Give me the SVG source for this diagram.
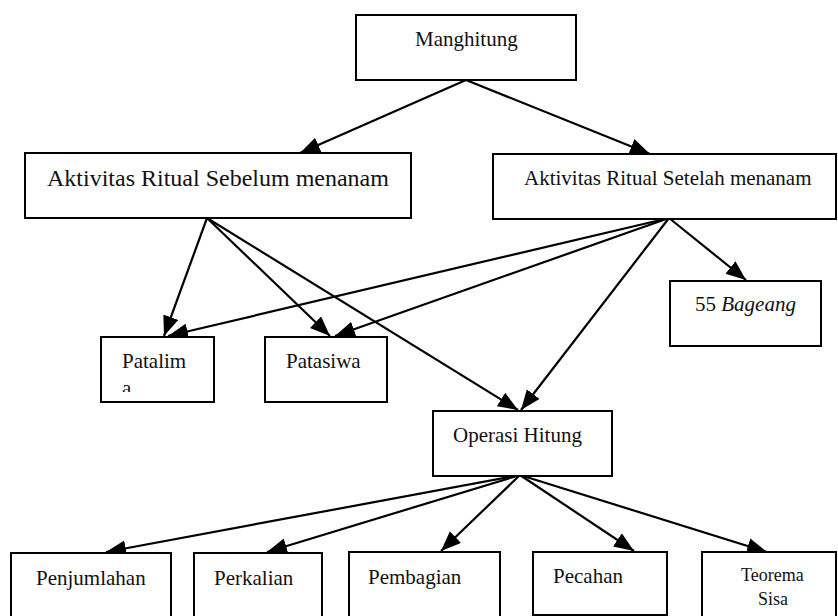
<svg xmlns="http://www.w3.org/2000/svg" width="838" height="616" viewBox="0 0 838 616">
  <style>
    .box { fill: #fff; stroke: #000; stroke-width: 2; }
    .lbl { font-family: 'Liberation Serif', Tinos, 'Times New Roman', 'DejaVu Serif', serif; font-size: 21px; fill: #111; }
    .big { font-size: 24px; }
    .small { font-size: 18px; }
    .edge { stroke: #000; stroke-width: 2.2; fill: none; marker-end: url(#head); }
  </style>
  <defs>
    <marker id="head" markerUnits="userSpaceOnUse" markerWidth="21" markerHeight="17" refX="20" refY="8" orient="auto">
      <path d="M0,0 L20,8 L0,16 z" fill="#000"/>
    </marker>
    <clipPath id="clipPatalima">
      <rect x="101" y="337" width="113" height="55"/>
    </clipPath>
  </defs>
  <rect width="838" height="616" fill="#fff"/>

  <g id="connectors">
    <line class="edge" x1="466" y1="80" x2="300" y2="153"/>
    <line class="edge" x1="466" y1="80" x2="650" y2="154"/>
    <line class="edge" x1="207" y1="218" x2="164" y2="336"/>
    <line class="edge" x1="207" y1="218" x2="330" y2="336"/>
    <line class="edge" x1="207" y1="218" x2="518" y2="410"/>
    <line class="edge" x1="669" y1="218" x2="168" y2="336"/>
    <line class="edge" x1="669" y1="218" x2="335" y2="336"/>
    <line class="edge" x1="669" y1="218" x2="521" y2="410"/>
    <line class="edge" x1="669" y1="218" x2="746" y2="280"/>
    <line class="edge" x1="520" y1="475" x2="106" y2="552"/>
    <line class="edge" x1="520" y1="475" x2="267" y2="552"/>
    <line class="edge" x1="520" y1="475" x2="441" y2="551"/>
    <line class="edge" x1="520" y1="475" x2="634" y2="551"/>
    <line class="edge" x1="520" y1="475" x2="767" y2="552"/>
  </g>

  <g id="manghitung">
    <rect class="box" x="356" y="15" width="220" height="65"/>
    <text class="lbl" font-family="Liberation Serif" x="415" y="46">Manghitung</text>
  </g>
  <g id="sebelum">
    <rect class="box" x="25" y="153" width="386" height="65"/>
    <text class="lbl big" x="47" y="186">Aktivitas Ritual Sebelum menanam</text>
  </g>
  <g id="setelah">
    <rect class="box" x="493" y="154" width="343" height="65"/>
    <text class="lbl" x="524" y="185">Aktivitas Ritual Setelah menanam</text>
  </g>
  <g id="patalima">
    <rect class="box" x="101" y="337" width="113" height="65"/>
    <text class="lbl" x="122" y="368">Patalim</text>
    <text class="lbl" x="122" y="395" clip-path="url(#clipPatalima)">a</text>
  </g>
  <g id="patasiwa">
    <rect class="box" x="265" y="337" width="122" height="65"/>
    <text class="lbl" x="286" y="368">Patasiwa</text>
  </g>
  <g id="bageang">
    <rect class="box" x="670" y="281" width="151" height="65"/>
    <text class="lbl" x="695" y="311">55 <tspan font-style="italic">Bageang</tspan></text>
  </g>
  <g id="operasi-hitung">
    <rect class="box" x="433" y="411" width="179" height="65"/>
    <text class="lbl" x="453" y="442">Operasi Hitung</text>
  </g>
  <g id="penjumlahan">
    <rect class="box" x="11" y="553" width="160" height="70"/>
    <text class="lbl" x="36" y="585">Penjumlahan</text>
  </g>
  <g id="perkalian">
    <rect class="box" x="194" y="553" width="128" height="70"/>
    <text class="lbl" x="214" y="585">Perkalian</text>
  </g>
  <g id="pembagian">
    <rect class="box" x="349" y="552" width="151" height="70"/>
    <text class="lbl" x="368" y="584">Pembagian</text>
  </g>
  <g id="pecahan">
    <rect class="box" x="533" y="552" width="134" height="63"/>
    <text class="lbl" x="553" y="583">Pecahan</text>
  </g>
  <g id="teorema-sisa">
    <rect class="box" x="702" y="552" width="134" height="70"/>
    <text class="lbl small" x="741" y="581">Teorema</text>
    <text class="lbl small" x="773" y="605" text-anchor="middle">Sisa</text>
  </g>
</svg>
